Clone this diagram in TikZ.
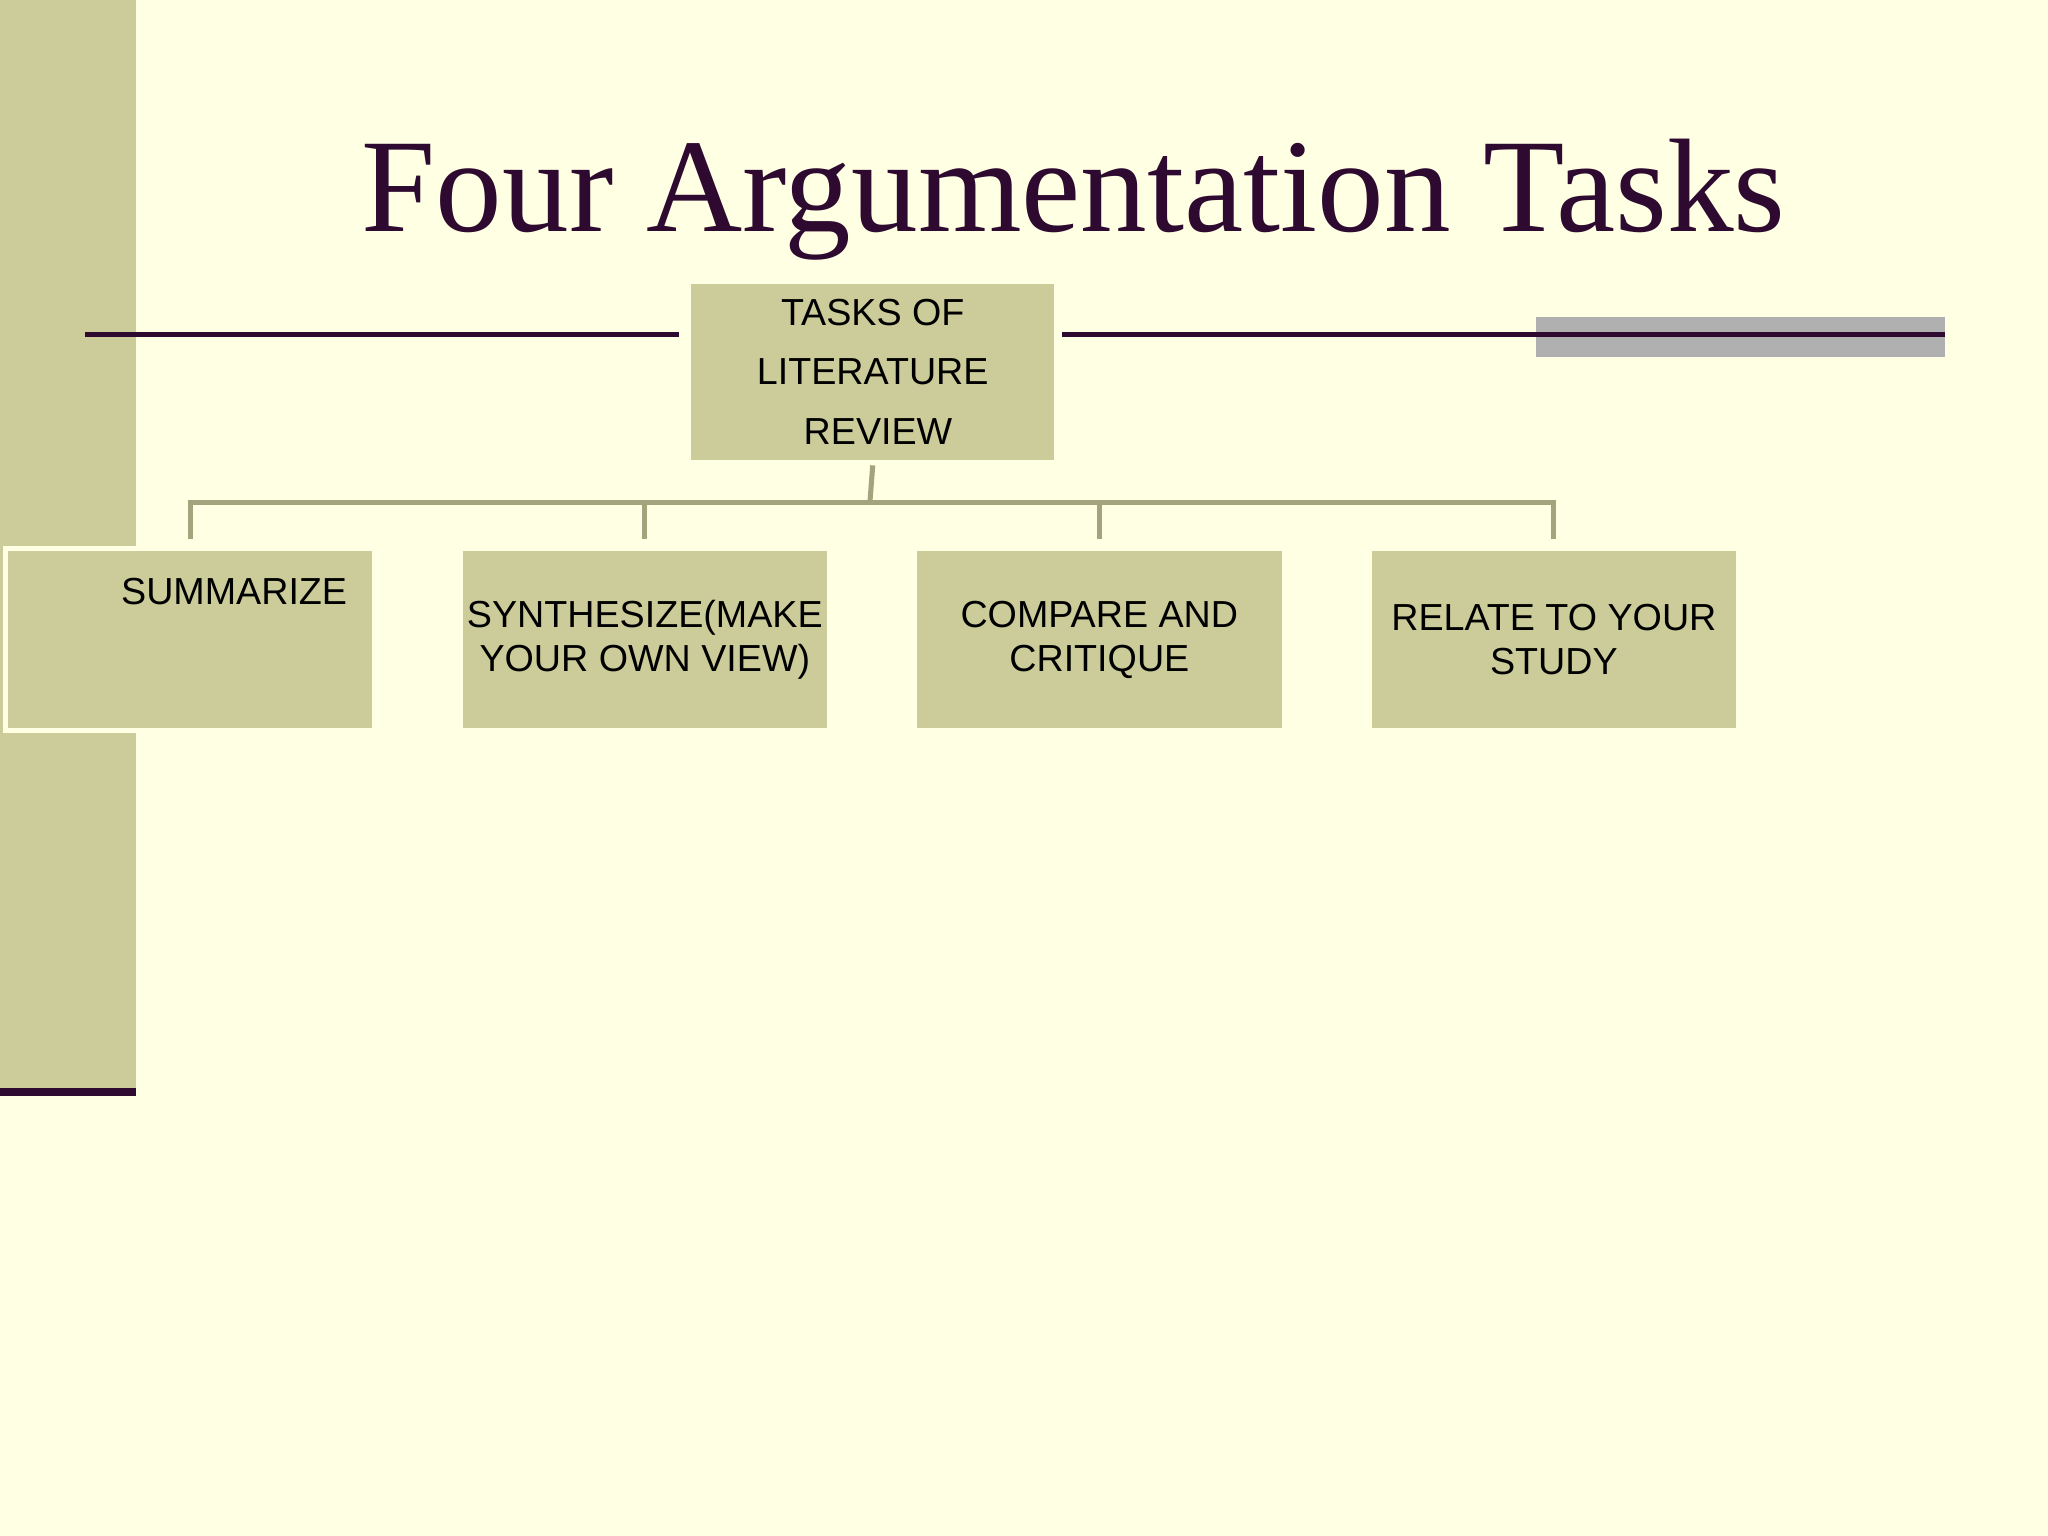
\documentclass[tikz,border=0pt]{standalone}
\usepackage{fontspec}
\setmainfont{Liberation Serif}
\setsansfont{Liberation Sans}
\definecolor{bg}{HTML}{FFFFE3}
\definecolor{olive}{HTML}{CCCC9A}
\definecolor{dpurp}{HTML}{2E0A30}
\definecolor{conn}{HTML}{A3A37E}
\definecolor{gbar}{HTML}{B0B0B0}
\begin{document}
\begin{tikzpicture}[x=0.01cm,y=-0.01cm,
  box/.style={fill=olive,draw=bg,line width=1.2pt,minimum width=2.83cm,minimum height=1.39cm,anchor=north west,inner sep=0pt,font=\sffamily\fontsize{8.2}{9.6}\selectfont,align=center},
  conline/.style={draw=conn,line width=1.1pt}]
\useasboundingbox[fill=bg] (0,0) rectangle (1568,1176);
\fill[olive] (0,0) rectangle (104,833);
\fill[dpurp] (0,833) rectangle (104,839);
\node[font=\fontsize{29}{34}\selectfont,text=dpurp] (title) at (822,153) {Four Argumentation Tasks};
\fill[gbar] (1176,243) rectangle (1489,273);
\coordinate (l1) at (65,256); \coordinate (l2) at (520,256);
\coordinate (r1) at (813,256); \coordinate (r2) at (1489,256);
\draw[dpurp,line width=1.1pt] (l1) -- (l2);
\draw[dpurp,line width=1.1pt] (r1) -- (r2);
\node[box,minimum width=2.82cm,font=\sffamily\fontsize{8.2}{13}\selectfont] (top) at (525,213) {TASKS OF\\LITERATURE\\\ REVIEW};
\node[box,text width=2.6cm,align=right,anchor=north west] (b1) at (2,418) {\raisebox{0pt}{SUMMARIZE\hspace*{0.1cm}}\\[0.4cm]\mbox{}};
\node[box] (b2) at (350,418) {SYNTHESIZE(MAKE\\YOUR OWN VIEW)};
\node[box] (b3) at (698,418) {COMPARE AND\\CRITIQUE};
\node[box] (b4) at (1046,418) {RELATE TO YOUR\\STUDY};
\coordinate (hub) at (666,385);
\draw[conline] (top.south) -- (hub);
\draw[conline] (b1.north) ++(0,-5) |- (hub);
\draw[conline] (b4.north) ++(0,-5) |- (hub);
\draw[conline] (b2.north) ++(0,-5) -- ++(0,-28);
\draw[conline] (b3.north) ++(0,-5) -- ++(0,-28);
\end{tikzpicture}
\end{document}
